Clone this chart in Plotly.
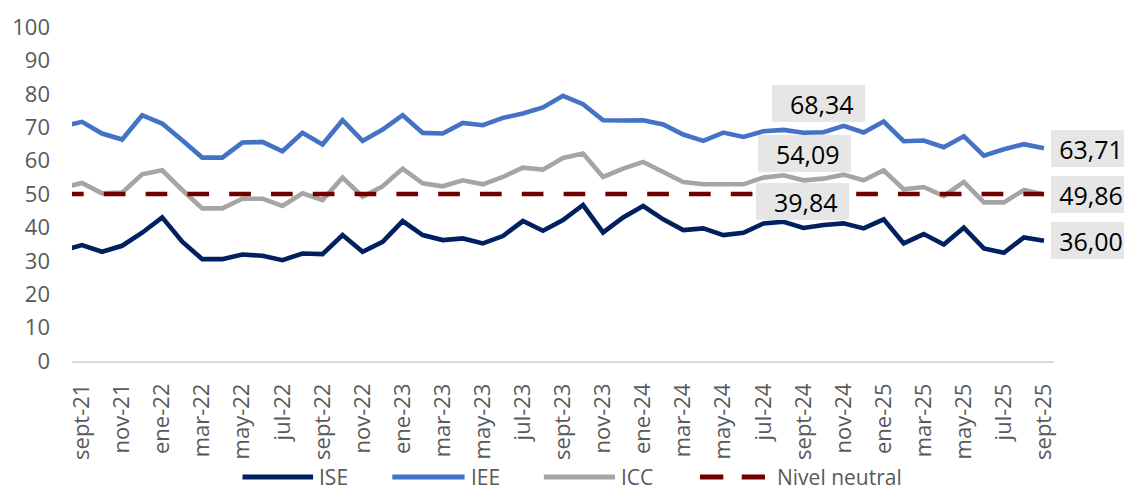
import plotly.graph_objects as go

# ---------------- data ----------------
months = ["ago-21", "sept-21", "oct-21", "nov-21", "dic-21", "ene-22", "feb-22", "mar-22", "abr-22",
          "may-22", "jun-22", "jul-22", "ago-22", "sept-22", "oct-22", "nov-22", "dic-22", "ene-23",
          "feb-23", "mar-23", "abr-23", "may-23", "jun-23", "jul-23", "ago-23", "sept-23", "oct-23",
          "nov-23", "dic-23", "ene-24", "feb-24", "mar-24", "abr-24", "may-24", "jun-24", "jul-24",
          "ago-24", "sept-24", "oct-24", "nov-24", "dic-24", "ene-25", "feb-25", "mar-25", "abr-25",
          "may-25", "jun-25", "jul-25", "ago-25", "sept-25"]

ise = [33.1, 34.7, 32.7, 34.5, 38.4, 43.0, 35.7, 30.5, 30.5, 31.9, 31.5,
       30.2, 32.2, 32.0, 37.7, 32.7, 35.7, 41.9, 37.7, 36.2, 36.7,
       35.2, 37.4, 41.9, 39.0, 42.2, 46.7, 38.5, 43.0, 46.4, 42.4,
       39.2, 39.7, 37.7, 38.4, 41.2, 41.7, 39.84, 40.7, 41.2, 39.7,
       42.4, 35.2, 38.0, 34.9, 39.9, 33.7, 32.4, 37.0, 36.00]

iee = [70.2, 71.6, 68.1, 66.3, 73.6, 71.1, 66.1, 60.9, 60.9, 65.4, 65.6,
       62.8, 68.3, 64.8, 72.1, 65.9, 69.3, 73.6, 68.3, 68.1, 71.3,
       70.6, 72.8, 74.1, 75.9, 79.4, 76.9, 72.1, 72.0, 72.1, 70.8,
       67.8, 65.9, 68.4, 67.1, 68.8, 69.2, 68.34, 68.5, 70.4, 68.4,
       71.7, 65.8, 66.0, 64.0, 67.3, 61.5, 63.4, 64.9, 63.71]

icc = [51.9, 53.3, 50.2, 50.4, 55.9, 57.1, 51.2, 45.7, 45.7, 48.6, 48.6,
       46.4, 50.2, 48.2, 54.9, 49.2, 52.3, 57.6, 53.2, 52.3, 54.1,
       52.9, 55.1, 57.9, 57.3, 60.8, 62.1, 55.1, 57.6, 59.6, 56.6,
       53.6, 52.9, 52.9, 52.9, 54.9, 55.6, 54.09, 54.6, 55.8, 54.1,
       57.1, 51.4, 52.1, 49.4, 53.6, 47.5, 47.5, 51.2, 49.86]

neutral_level = 50

tick_labels = ["sept-21", "nov-21", "ene-22", "mar-22", "may-22", "jul-22", "sept-22", "nov-22",
               "ene-23", "mar-23", "may-23", "jul-23", "sept-23", "nov-23", "ene-24", "mar-24",
               "may-24", "jul-24", "sept-24", "nov-24", "ene-25", "mar-25", "may-25", "jul-25",
               "sept-25"]

series_names = ["ISE", "IEE", "ICC", "Nivel neutral"]
mid_label_month = "sept-24"

# ---------------- styles ----------------
C_ISE = "#002060"
C_IEE = "#4472C4"
C_ICC = "#A5A5A5"
C_NEU = "#700000"
TXT = "#595959"
BOX = "#E7E6E6"
FONT = "Open Sans"

OFF = 8  # default page body margin of the HTML page
W, H = 1132 - OFF, 491 - OFF
PLOT_L, PLOT_R, PLOT_T, PLOT_B = 72, 1054, 27, 361   # page pixel positions of the plot area
ML, MT = PLOT_L - OFF, PLOT_T - OFF
MR, MB = W - (PLOT_R - OFF), H - (PLOT_B - OFF)
PW, PH = PLOT_R - PLOT_L, PLOT_B - PLOT_T


def px(xp):
    return (xp - PLOT_L) / PW


def py(yp):
    return (PLOT_B - yp) / PH


def fmt(v):
    return f"{v:.2f}".replace(".", ",")


fig = go.Figure()
lw = 4.6
fig.add_trace(go.Scatter(x=months, y=ise, mode="lines", name="ISE",
                         line=dict(color=C_ISE, width=lw)))
fig.add_trace(go.Scatter(x=months, y=iee, mode="lines", name="IEE",
                         line=dict(color=C_IEE, width=lw)))
fig.add_trace(go.Scatter(x=months, y=icc, mode="lines", name="ICC",
                         line=dict(color=C_ICC, width=lw)))
fig.add_trace(go.Scatter(x=months, y=[neutral_level] * len(months), mode="lines",
                         name="Nivel neutral",
                         line=dict(color=C_NEU, width=lw, dash="21.7px,20.1px")))

annotations = []
# mid data labels (sept-24)
mi = months.index(mid_label_month)
mid_specs = [(iee, 14.6, 10.5), (icc, 0.6, 8.5), (ise, -1.4, 8)]
for arr, xs, ys in mid_specs:
    annotations.append(dict(x=mid_label_month, y=arr[mi], xref="x", yref="y",
                            text="\u00a0" + fmt(arr[mi]), showarrow=False,
                            xanchor="center", yanchor="bottom", xshift=xs, yshift=ys,
                            font=dict(family=FONT, size=25, color="#000000"),
                            bgcolor=BOX, width=93, height=37, borderpad=0, borderwidth=0))
# end labels
for arr in (iee, icc, ise):
    annotations.append(dict(x=months[-1], y=arr[-1], xref="x", yref="y",
                            text=fmt(arr[-1]), showarrow=False,
                            xanchor="left", yanchor="middle", xshift=7.5,
                            font=dict(family=FONT, size=25, color="#000000"),
                            bgcolor=BOX, width=80, height=37, borderpad=0, borderwidth=0))

# custom legend
shapes = []
ly = py(477)
leg_items = [
    (series_names[0], C_ISE, [(242.5, 313.1)], 319),
    (series_names[1], C_IEE, [(392.3, 464.6)], 470.5),
    (series_names[2], C_ICC, [(543.8, 615.0)], 620.7),
    (series_names[3], C_NEU, [(700.0, 723.3), (741.7, 765.0)], 777.3),
]
for name, col, segs, tx in leg_items:
    for a, b in segs:
        shapes.append(dict(type="line", xref="paper", yref="paper",
                           x0=px(a), x1=px(b), y0=ly, y1=ly,
                           line=dict(color=col, width=5)))
    annotations.append(dict(x=px(tx), y=ly, xref="paper", yref="paper", text=name,
                            showarrow=False, xanchor="left", yanchor="middle",
                            font=dict(family=FONT, size=21, color=TXT),
                            borderpad=0, borderwidth=0))

fig.update_layout(
    width=W, height=H,
    margin=dict(l=ML, r=MR, t=MT, b=MB, autoexpand=False),
    plot_bgcolor="white", paper_bgcolor="white",
    showlegend=False,
    font=dict(family=FONT, size=22, color=TXT),
    annotations=annotations,
    shapes=shapes,
)
fig.update_xaxes(type="category", categoryorder="array", categoryarray=months,
                 range=[0.5, len(months) - 0.5],
                 tickmode="array", tickvals=tick_labels, ticktext=tick_labels,
                 tickangle=-90, tickfont=dict(family=FONT, size=22, color=TXT),
                 showline=True, linecolor="#D9D9D9", linewidth=1.5,
                 showgrid=False, zeroline=False, ticks="", ticklabelstandoff=12)
fig.update_yaxes(range=[0, 100], dtick=10, tick0=0,
                 tickfont=dict(family=FONT, size=22, color=TXT),
                 showgrid=False, zeroline=False, showline=False, ticks="",
                 ticklabelstandoff=21)

fig.write_html("out.html")
